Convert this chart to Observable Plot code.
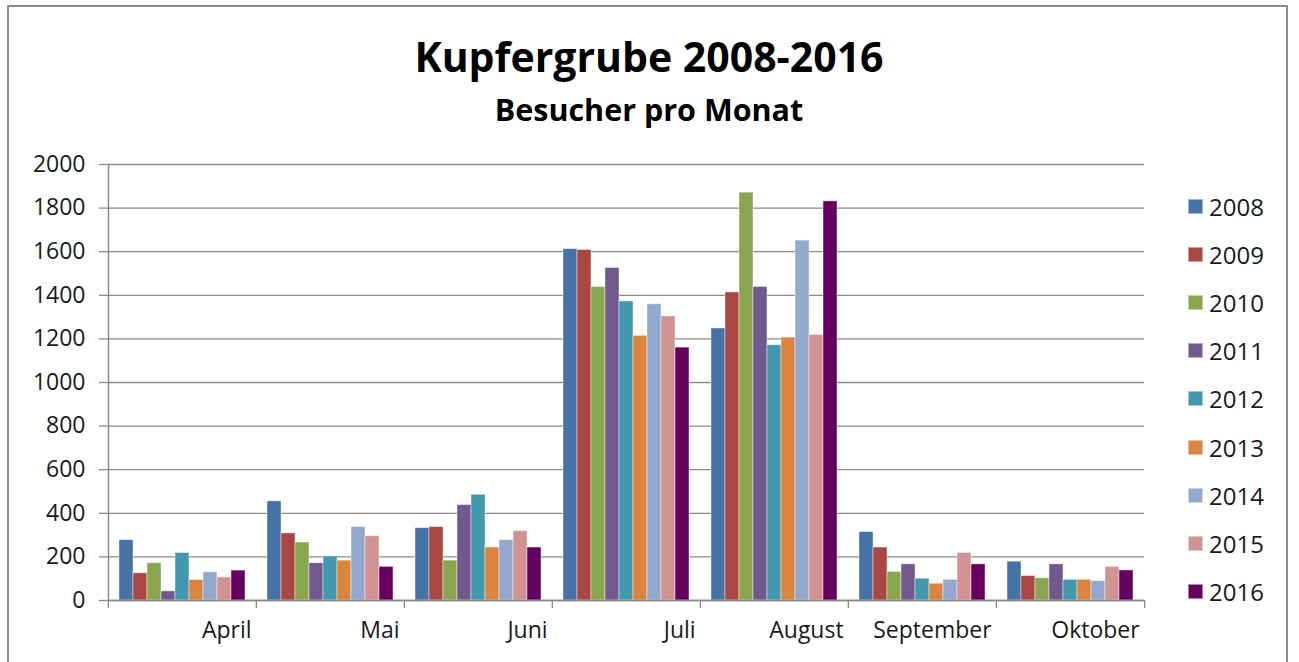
<!DOCTYPE html>
<html>
<head>
<meta charset="utf-8">
<script src="https://cdn.jsdelivr.net/npm/d3@7"></script>
<script src="https://cdn.jsdelivr.net/npm/@observablehq/plot@0.6"></script>
<style>
  html, body { margin: 0; padding: 0; background: #fff; overflow: hidden; }
  body { width: 1299px; height: 662px; position: relative; font-family: "Open Sans", sans-serif; color: #1a1a1a; }
  #border { position: absolute; left: 7px; top: 5px; width: 1281px; height: 700px; border: 2px solid #8c8c8c; box-sizing: border-box; }
  #title { position: absolute; left: 0; width: 1298px; top: 32px; text-align: center; font-weight: 700; font-size: 41px; line-height: 48px; color: #000; }
  #subtitle { position: absolute; left: 0; width: 1298px; top: 91px; text-align: center; font-weight: 700; font-size: 30.5px; line-height: 36px; color: #000; }
  #chart { position: absolute; left: 0; top: 140px; }
  #legend { position: absolute; left: 1188px; top: 182px; }
  .item { height: 48.2px; display: flex; align-items: center; font-size: 24px; color: #1a1a1a; }
  .sw { width: 15px; height: 15px; margin-right: 6px; box-sizing: border-box; border: 1px solid rgba(255,255,255,0.5); }
</style>
</head>
<body>
<div id="border"></div>
<div id="title">Kupfergrube 2008-2016</div>
<div id="subtitle">Besucher pro Monat</div>
<div id="chart"></div>
<div id="legend"></div>
<script>
// ---- data ----
const months = ["April", "Mai", "Juni", "Juli", "August", "September", "Oktober"];
const years = ["2008", "2009", "2010", "2011", "2012", "2013", "2014", "2015", "2016"];
const colors = ["#4572A7", "#AA4643", "#89A54E", "#71588F", "#4198AF", "#DB843D", "#93A9CF", "#D19392", "#660060"];
const yTicks = [0, 200, 400, 600, 800, 1000, 1200, 1400, 1600, 1800, 2000];

const v2008 = [277, 455, 332, 1612, 1248, 314, 178];
const v2009 = [125, 308, 337, 1608, 1413, 243, 112];
const v2010 = [171, 266, 183, 1438, 1871, 131, 102];
const v2011 = [42, 171, 438, 1525, 1438, 166, 166];
const v2012 = [218, 202, 485, 1372, 1171, 100, 95];
const v2013 = [94, 183, 243, 1214, 1206, 77, 95];
const v2014 = [129, 337, 277, 1359, 1651, 95, 89];
const v2015 = [106, 295, 318, 1303, 1218, 218, 154];
const v2016 = [137, 154, 243, 1160, 1831, 166, 138];
const series = [v2008, v2009, v2010, v2011, v2012, v2013, v2014, v2015, v2016];

const rows = [];
months.forEach((m, i) => years.forEach((y, j) => rows.push({month: m, year: y, value: series[j][i]})));

// ---- layout ----
const W = 1160, ML = 107, MR = 15;
const half = (W - ML - MR) / months.length / 2;
const axisGray = "#8a8a8a";

const chart = Plot.plot({
  width: W, height: 520,
  marginLeft: ML, marginRight: MR, marginTop: 24, marginBottom: 60,
  style: {fontFamily: "Open Sans, sans-serif", fontSize: "23px", color: "#1a1a1a", background: "transparent", overflow: "visible"},
  fx: {domain: months, padding: 0, axis: null, label: null},
  x: {domain: years, paddingInner: 0, paddingOuter: 0.72, axis: null, label: null},
  y: {domain: [0, 2000], axis: null, label: null},
  color: {domain: years, range: colors},
  marks: [
    Plot.gridY(yTicks, {stroke: axisGray, strokeOpacity: 1, strokeWidth: 1.3}),
    Plot.axisY(yTicks, {label: null, tickFormat: d3.format("d"), tickSize: 9, tickPadding: 14, stroke: axisGray, strokeWidth: 1.3, fontSize: 23, fill: "#1a1a1a"}),
    Plot.barY(rows, {fx: "month", x: "year", y: "value", fill: "year", stroke: "#ffffff", strokeOpacity: 0.45, strokeWidth: 1}),
    Plot.ruleY([0], {stroke: axisGray, strokeWidth: 1.5}),
    Plot.frame({anchor: "left", facetAnchor: "left", stroke: axisGray, strokeWidth: 1.5}),
    Plot.axisFx({anchor: "bottom", label: null, tickSize: 8, tickFormat: () => "", dx: -half, stroke: axisGray, strokeWidth: 1.3}),
    Plot.axisFx({anchor: "bottom", label: null, ticks: [months[months.length - 1]], tickSize: 8, tickFormat: () => "", dx: half, stroke: axisGray, strokeWidth: 1.3}),
    Plot.axisFx({anchor: "bottom", label: null, tickSize: 0, tickPadding: 21, textAnchor: "end", dx: half - 5, fontSize: 23, fill: "#1a1a1a"})
  ]
});
document.getElementById("chart").append(chart);

// ---- legend ----
const legend = d3.select("#legend");
years.forEach((y, j) => {
  const it = legend.append("div").attr("class", "item");
  it.append("div").attr("class", "sw").style("background", colors[j]);
  it.append("span").text(y);
});
</script>
</body>
</html>
